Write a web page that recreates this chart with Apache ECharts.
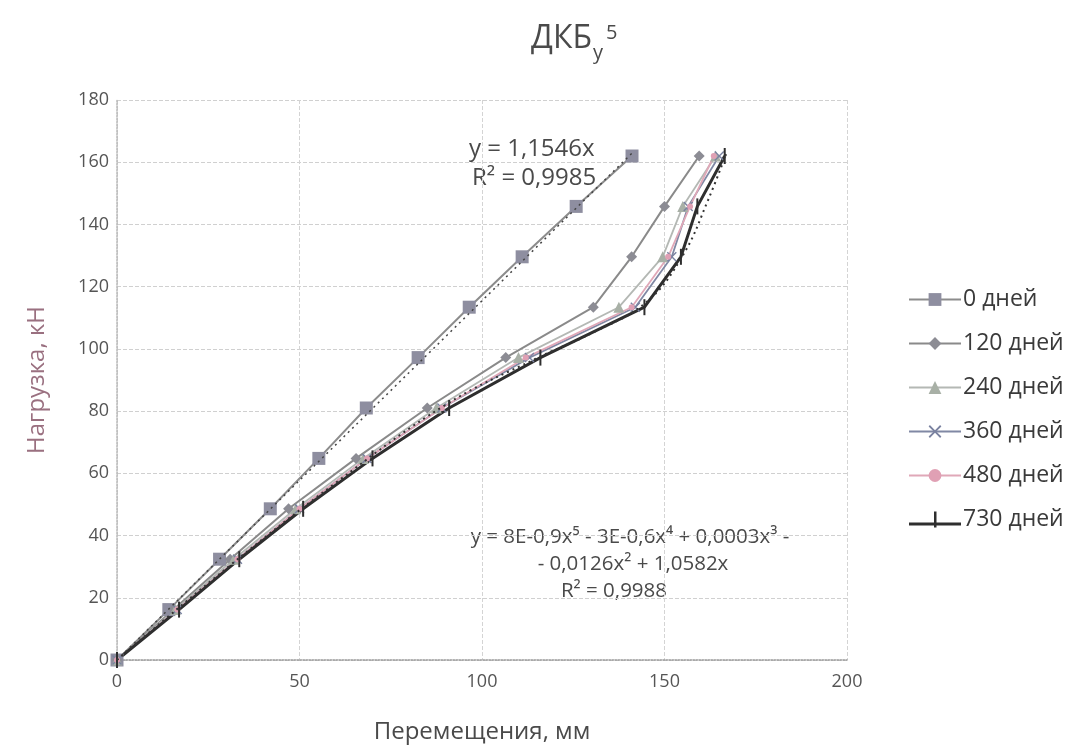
<!DOCTYPE html>
<html>
<head>
<meta charset="utf-8">
<script src="https://cdn.jsdelivr.net/npm/echarts@6/dist/echarts.min.js"></script>
<style>
  html, body { margin: 0; padding: 0; background: #fff; }
  #chart { width: 1071px; height: 749px; }
</style>
</head>
<body>
<div id="chart"></div>
<script>
// Load steps, kN
const loads = [0, 16.2, 32.4, 48.6, 64.8, 81, 97.2, 113.4, 129.6, 145.8, 162];
// Displacements, mm, per ageing period
const days0   = [0, 14.2, 28.1, 42, 55.3, 68.3, 82.5, 96.5, 111, 125.8, 141.1];
const days120 = [0, 15.5, 31, 47, 65.5, 85, 106.5, 130.5, 141, 150, 159.5];
const days240 = [0, 16, 32, 49, 67.5, 87.5, 110, 137.5, 149.5, 155, 164];
const days360 = [0, 16.5, 33, 50, 68.5, 89, 113, 142, 152, 156.5, 165];
const days480 = [0, 16.5, 33, 50, 68.5, 89, 112, 141, 151, 157, 163.5];
const days730 = [0, 17, 33.5, 51, 70, 91, 116, 144.5, 154.5, 159, 166.5];
const seriesNames = ['0 дней', '120 дней', '240 дней', '360 дней', '480 дней', '730 дней'];

// Linear trend for 0 days: y = 1,1546x
const linSlope = 1.1546;
const linRange = [0, 141.1];
// Polynomial trend for 730 days
const polyX = [0, 30, 60, 90, 115, 130, 145, 155, 162, 167];
const polyY = [0, 29.5, 57, 82, 97, 105, 115, 130, 148, 163];

const xTicks = { min: 0, max: 200, interval: 50 };
const yTicks = { min: 0, max: 180, interval: 20 };

const FONT = '"Open Sans", "Noto Sans", sans-serif';
const TEXT = '#4a4a4a';
const pairs = (xs) => xs.map((x, i) => [x, loads[i]]);

const crossPath = 'path://M1,0 L5,4 L9,0 L10,1 L6,5 L10,9 L9,10 L5,6 L1,10 L0,9 L4,5 L0,1 Z';
const barPath = 'path://M0,0 L2,0 L2,16 L0,16 Z';
// legend glyph for the 730-day series: a line crossed by a vertical tick
const barLegendIcon = 'path://M0,11 L52,11 L52,14 L0,14 Z M25,0 L27.5,0 L27.5,16 L25,16 Z';

function lineSeries(name, xs, color, lineW, symbol, size, symColor, keep) {
  return {
    name: name, type: 'line', data: pairs(xs),
    symbol: symbol, symbolSize: size, showSymbol: true, symbolKeepAspect: !!keep,
    lineStyle: { color: color, width: lineW },
    itemStyle: { color: symColor || color, borderWidth: 0 },
    z: 3
  };
}

const chart = echarts.init(document.getElementById('chart'));
chart.setOption({
  animation: false,
  backgroundColor: '#ffffff',
  title: {
    text: '{a|ДКБ}{b|у}{c|5}',
    left: 526, top: 18,
    textStyle: {
      fontWeight: 'normal',
      rich: {
        a: { fontSize: 32, color: TEXT, fontFamily: FONT, fontWeight: 'normal', verticalAlign: 'bottom' },
        b: { fontSize: 20, color: TEXT, fontFamily: FONT, fontWeight: 'normal', verticalAlign: 'bottom', padding: [0, 0, -8, 1] },
        c: { fontSize: 20, color: TEXT, fontFamily: FONT, fontWeight: 'normal', verticalAlign: 'top', padding: [0, 0, 0, 3] }
      }
    }
  },
  grid: { left: 117, right: 224, top: 100, bottom: 88, containLabel: false },
  legend: {
    orient: 'vertical', left: 903, top: 283,
    itemWidth: 52, itemHeight: 16, itemGap: 21,
    data: seriesNames.map((n, i) => i === 5 ? { name: n, icon: barLegendIcon } : { name: n }),
    textStyle: { fontSize: 23, color: '#3a3a3a', fontFamily: FONT, padding: [0, 0, 0, -3] }
  },
  xAxis: {
    type: 'value', min: xTicks.min, max: xTicks.max, interval: xTicks.interval,
    name: 'Перемещения, мм', nameLocation: 'middle', nameGap: 60,
    nameTextStyle: { fontSize: 24, color: TEXT, fontFamily: FONT },
    axisLine: { show: true, lineStyle: { color: '#9a9a9a', type: 'dotted', width: 1.5 } },
    axisTick: { show: false },
    axisLabel: { fontSize: 18, color: '#555', fontFamily: FONT, margin: 13 },
    splitLine: { show: true, lineStyle: { color: '#d4d4d4', type: 'dashed' } }
  },
  yAxis: {
    type: 'value', min: yTicks.min, max: yTicks.max, interval: yTicks.interval,
    name: 'Нагрузка, кН', nameLocation: 'middle', nameGap: 68,
    nameTextStyle: { fontSize: 24, color: '#9a7080', fontFamily: FONT },
    axisLine: { show: true, lineStyle: { color: '#b8b8b8', type: 'dotted', width: 1.5 } },
    axisTick: { show: false },
    axisLabel: { fontSize: 18, color: '#555', fontFamily: FONT, margin: 8 },
    splitLine: { show: true, lineStyle: { color: '#d0d0d0', type: 'dashed' } }
  },
  series: [
    lineSeries(seriesNames[0], days0, '#8c8c8c', 2, 'rect', 13, '#8e8ea0'),
    lineSeries(seriesNames[1], days120, '#8a8a8a', 2, 'diamond', 11, '#8c8c94'),
    lineSeries(seriesNames[2], days240, '#b4b8b4', 1.8, 'triangle', 11, '#a8b0a6'),
    lineSeries(seriesNames[3], days360, '#8088a4', 1.8, crossPath, 10, '#7a82a0'),
    lineSeries(seriesNames[4], days480, '#e0a8b8', 1.8, 'circle', 6, '#e0a0b4'),
    lineSeries(seriesNames[5], days730, '#2e2e2e', 3, barPath, 16, '#2e2e2e', true),
    {
      name: 'lin-trend', type: 'line', silent: true, symbol: 'none',
      data: [[linRange[0], linSlope * linRange[0]], [linRange[1], linSlope * linRange[1]]],
      lineStyle: { color: '#444', width: 1.5, type: [2, 4] }, z: 4
    },
    {
      name: 'poly-trend', type: 'line', silent: true, symbol: 'none', smooth: 0.4,
      data: polyX.map((x, i) => [x, polyY[i]]),
      lineStyle: { color: '#333', width: 2, type: [2, 4] }, z: 4
    }
  ],
  graphic: [
    { type: 'text', left: 469, top: 137, style: { text: 'y = 1,1546x', fontSize: 24, fill: TEXT, fontFamily: FONT } },
    { type: 'text', left: 472, top: 166, style: { text: 'R² = 0,9985', fontSize: 24, fill: TEXT, fontFamily: FONT } },
    { type: 'text', x: 630, y: 537, style: { text: 'y = 8E-0,9x⁵ - 3E-0,6x⁴ + 0,0003x³ -', fontSize: 20.5, fill: TEXT, fontFamily: FONT, align: 'center', verticalAlign: 'middle' } },
    { type: 'text', x: 633, y: 564, style: { text: '- 0,0126x² + 1,0582x', fontSize: 20.5, fill: TEXT, fontFamily: FONT, align: 'center', verticalAlign: 'middle' } },
    { type: 'text', x: 614, y: 591, style: { text: 'R² = 0,9988', fontSize: 20.5, fill: TEXT, fontFamily: FONT, align: 'center', verticalAlign: 'middle' } }
  ]
});
</script>
</body>
</html>
